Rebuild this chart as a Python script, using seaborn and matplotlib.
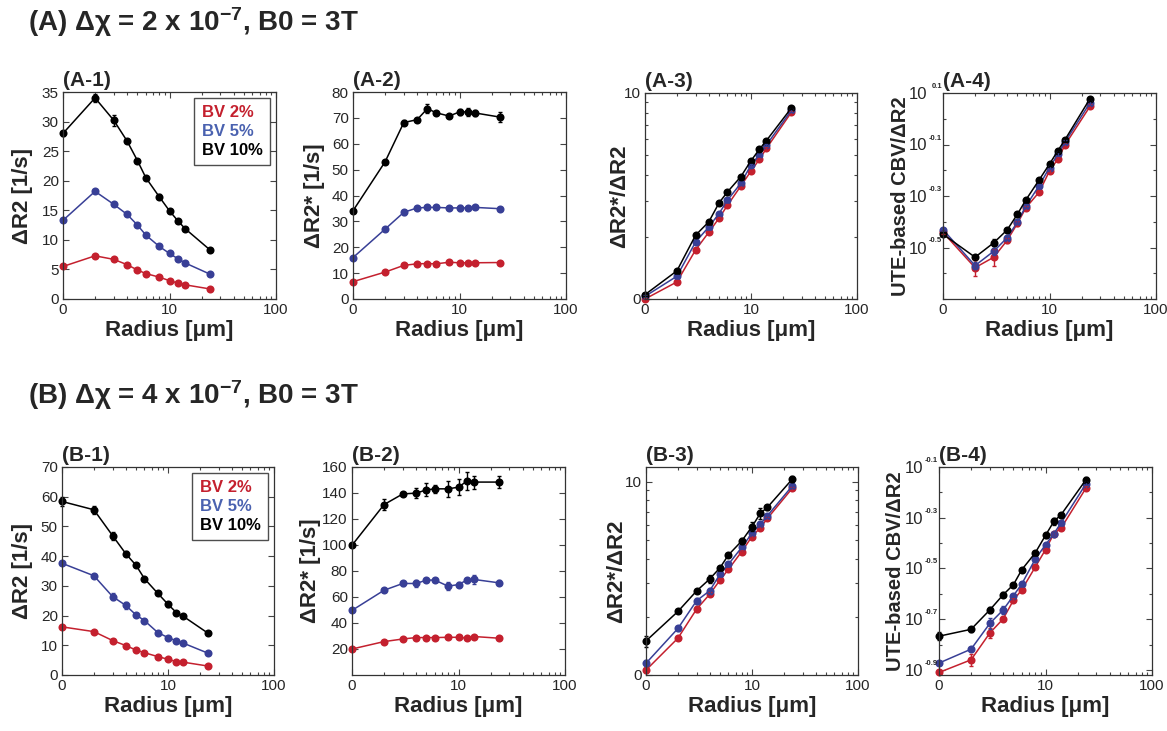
import numpy as np
import pandas as pd
import matplotlib
matplotlib.use("Agg")
import matplotlib.pyplot as plt
import seaborn as sns
from matplotlib.ticker import FixedLocator, FixedFormatter, NullFormatter, LogLocator
from matplotlib.lines import Line2D

# ---------------- data ----------------
radius = [1, 2, 3, 4, 5, 6, 8, 10, 12, 14, 24]
series = ["BV 2%", "BV 5%", "BV 10%"]

# (A) dchi = 2e-7
a1_bv2 = [5.5, 7.3, 6.7, 5.8, 4.9, 4.3, 3.7, 3.1, 2.7, 2.4, 1.7]
a1_bv5 = [13.3, 18.2, 16.0, 14.3, 12.5, 10.8, 8.9, 7.7, 6.8, 6.1, 4.2]
a1_bv10 = [28.0, 34.0, 30.2, 26.7, 23.4, 20.5, 17.3, 14.9, 13.2, 11.9, 8.3]
a1_err2 = [0.2, 0.2, 0.2, 0.2, 0.2, 0.2, 0.2, 0.2, 0.2, 0.2, 0.1]
a1_err5 = [0.3, 0.3, 0.3, 0.3, 0.3, 0.3, 0.3, 0.3, 0.3, 0.2, 0.2]
a1_err10 = [0.4, 0.7, 0.9, 0.3, 0.3, 0.3, 0.4, 0.3, 0.3, 0.3, 0.2]

a2_bv2 = [6.7, 10.4, 13.0, 13.6, 13.7, 13.6, 14.2, 14.0, 14.0, 14.0, 14.1]
a2_bv5 = [16.0, 27.0, 33.5, 35.2, 35.4, 35.4, 35.2, 35.2, 35.2, 35.4, 34.9]
a2_bv10 = [34.1, 53.0, 68.2, 69.3, 73.6, 72.0, 70.7, 72.3, 72.3, 71.9, 70.3]
a2_err2 = [0.4, 0.4, 0.4, 0.4, 0.4, 0.4, 0.5, 0.4, 0.4, 0.4, 0.4]
a2_err5 = [0.5, 0.6, 1.0, 0.8, 0.8, 0.8, 0.8, 1.2, 0.8, 0.6, 0.6]
a2_err10 = [0.8, 0.6, 1.0, 0.8, 1.8, 0.8, 0.8, 1.0, 1.6, 1.0, 1.8]

a3_bv2 = [1.00, 1.21, 1.73, 2.11, 2.47, 2.85, 3.53, 4.18, 4.76, 5.39, 8.05]
a3_bv5 = [1.03, 1.29, 1.89, 2.24, 2.60, 3.02, 3.64, 4.47, 5.00, 5.60, 8.23]
a3_bv10 = [1.05, 1.37, 2.04, 2.37, 2.93, 3.31, 3.92, 4.69, 5.33, 5.88, 8.45]
a3_err2 = [0.01, 0.02, 0.03, 0.03, 0.04, 0.04, 0.05, 0.06, 0.07, 0.08, 0.1]
a3_err5 = [0.01, 0.02, 0.03, 0.03, 0.04, 0.04, 0.05, 0.06, 0.07, 0.08, 0.1]
a3_err10 = [0.02, 0.02, 0.04, 0.03, 0.05, 0.04, 0.05, 0.06, 0.08, 0.08, 0.12]

a4_bv2 = [0.362, 0.264, 0.290, 0.337, 0.392, 0.451, 0.519, 0.627, 0.698, 0.792, 1.117]
a4_bv5 = [0.371, 0.269, 0.306, 0.345, 0.397, 0.458, 0.550, 0.646, 0.728, 0.813, 1.153]
a4_bv10 = [0.356, 0.290, 0.330, 0.370, 0.426, 0.484, 0.579, 0.667, 0.752, 0.830, 1.197]
a4_err2 = [0.006, 0.02, 0.022, 0.008, 0.008, 0.008, 0.01, 0.01, 0.012, 0.015, 0.02]
a4_err5 = [0.006, 0.008, 0.01, 0.008, 0.008, 0.008, 0.01, 0.01, 0.012, 0.015, 0.02]
a4_err10 = [0.006, 0.006, 0.01, 0.008, 0.008, 0.008, 0.01, 0.01, 0.012, 0.015, 0.02]

# (B) dchi = 4e-7
b1_bv2 = [16.2, 14.6, 11.6, 9.9, 8.4, 7.5, 6.2, 5.3, 4.5, 4.3, 3.0]
b1_bv5 = [37.6, 33.4, 26.4, 23.4, 20.2, 18.3, 14.3, 12.6, 11.5, 10.7, 7.3]
b1_bv10 = [58.4, 55.6, 46.9, 40.8, 36.9, 32.4, 27.5, 23.8, 21.0, 19.7, 14.0]
b1_err2 = [0.4, 0.4, 0.4, 0.4, 0.4, 0.4, 0.4, 0.3, 0.3, 0.3, 0.2]
b1_err5 = [0.5, 0.5, 1.3, 1.3, 0.5, 0.5, 0.5, 0.5, 0.5, 0.4, 0.3]
b1_err10 = [1.6, 1.3, 1.3, 0.9, 0.7, 0.7, 0.6, 0.8, 0.6, 0.6, 0.5]

b2_bv2 = [20.0, 25.7, 27.7, 28.8, 28.8, 28.8, 29.0, 29.0, 28.3, 29.6, 28.3]
b2_bv5 = [49.7, 65.2, 70.4, 70.4, 73.0, 73.0, 68.3, 69.6, 73.0, 73.5, 70.9]
b2_bv10 = [99.8, 131.1, 139.3, 139.9, 142.4, 143.2, 143.2, 144.5, 149.2, 148.4, 148.4]
b2_err2 = [0.8, 1.0, 1.0, 1.0, 1.0, 1.0, 1.0, 1.0, 1.2, 1.2, 1.0]
b2_err5 = [1.0, 1.2, 2.0, 2.5, 1.8, 1.5, 3.0, 2.0, 2.0, 3.5, 1.8]
b2_err10 = [1.5, 4.0, 1.5, 4.0, 5.0, 3.0, 6.0, 6.0, 7.0, 5.0, 4.5]

b3_bv2 = [1.06, 1.55, 2.19, 2.62, 3.10, 3.52, 4.35, 5.20, 5.78, 6.46, 9.24]
b3_bv5 = [1.15, 1.74, 2.42, 2.73, 3.33, 3.74, 4.57, 5.41, 6.04, 6.67, 9.50]
b3_bv10 = [1.50, 2.13, 2.72, 3.14, 3.59, 4.18, 4.93, 5.85, 6.86, 7.37, 10.30]
b3_err2 = [0.03, 0.03, 0.08, 0.06, 0.06, 0.06, 0.08, 0.1, 0.1, 0.1, 0.15]
b3_err5 = [0.04, 0.05, 0.08, 0.1, 0.08, 0.08, 0.1, 0.12, 0.12, 0.15, 0.2]
b3_err10 = [0.1, 0.04, 0.05, 0.15, 0.08, 0.06, 0.15, 0.3, 0.45, 0.2, 0.35]

b4_bv2 = [0.123, 0.138, 0.176, 0.200, 0.237, 0.261, 0.320, 0.375, 0.434, 0.456, 0.656]
b4_bv5 = [0.134, 0.152, 0.192, 0.217, 0.247, 0.275, 0.344, 0.392, 0.434, 0.478, 0.682]
b4_bv10 = [0.171, 0.182, 0.217, 0.249, 0.273, 0.313, 0.364, 0.427, 0.485, 0.515, 0.708]
b4_err2 = [0.002, 0.008, 0.008, 0.004, 0.004, 0.004, 0.006, 0.006, 0.006, 0.006, 0.01]
b4_err5 = [0.002, 0.003, 0.01, 0.008, 0.004, 0.004, 0.008, 0.006, 0.006, 0.008, 0.01]
b4_err10 = [0.006, 0.004, 0.005, 0.006, 0.005, 0.006, 0.008, 0.01, 0.015, 0.008, 0.015]

titles = ["(A-1)", "(A-2)", "(A-3)", "(A-4)", "(B-1)", "(B-2)", "(B-3)", "(B-4)"]
heading_a = r"(A) Δχ = 2 x 10$^{\mathbf{-7}}$, B0 = 3T"
heading_b = r"(B) Δχ = 4 x 10$^{\mathbf{-7}}$, B0 = 3T"
xlabel = "Radius [μm]"
x_ticks = [1, 10, 100]
x_ticklabels = ["0", "10", "100"]
a4_exponents = ["0.1", "-0.1", "-0.3", "-0.5"]
b4_exponents = ["-0.1", "-0.3", "-0.5", "-0.7", "-0.9"]

# ---------------- style ----------------
sns.set_style("ticks")
plt.rcParams["font.family"] = ["Liberation Sans", "DejaVu Sans"]
plt.rcParams["mathtext.fontset"] = "custom"
plt.rcParams["mathtext.rm"] = "Liberation Sans"
plt.rcParams["mathtext.bf"] = "Liberation Sans:bold"
plt.rcParams["mathtext.it"] = "Liberation Sans:italic"
plt.rcParams["mathtext.sf"] = "Liberation Sans"

colors = {"BV 2%": "#c4202e", "BV 5%": "#383f96", "BV 10%": "#000000"}
legend_colors = {"BV 2%": "#c4202e", "BV 5%": "#4a62b0", "BV 10%": "#000000"}

W, H = 1167, 731
fig = plt.figure(figsize=(W / 100, H / 100), dpi=100)


def pos(l, r, t, b):
    return [l / W, 1 - b / H, (r - l) / W, (b - t) / H]


def panel(rect, data, errs, title):
    ax = fig.add_axes(rect)
    rows = []
    for name, vals, ers in zip(series, data, errs):
        for r, v, e in zip(radius, vals, ers):
            rows.append({"radius": r, "value": v, "err": e, "BV": name})
    df = pd.DataFrame(rows)
    sns.lineplot(data=df, x="radius", y="value", hue="BV", hue_order=series,
                 palette=colors, marker="o", markersize=5.8, markeredgewidth=0,
                 linewidth=1.1, errorbar=None, legend=False, sort=False, ax=ax)
    for name in series:
        sub = df[df["BV"] == name]
        ax.errorbar(sub["radius"], sub["value"], yerr=sub["err"], fmt="none",
                    ecolor=colors[name], elinewidth=1.0, capsize=1.6, capthick=1.0)
    for ln in ax.lines:
        ln.set_clip_on(False)
    for coll in ax.collections:
        coll.set_clip_on(False)
    ax.set_xscale("log")
    ax.set_xlim(1, 100)
    ax.xaxis.set_major_locator(FixedLocator(x_ticks))
    ax.xaxis.set_major_formatter(FixedFormatter(x_ticklabels))
    ax.xaxis.set_minor_locator(LogLocator(base=10, subs=np.arange(2, 10)))
    ax.xaxis.set_minor_formatter(NullFormatter())
    ax.set_xlabel(xlabel, fontsize=16, fontweight="bold", labelpad=2)
    ax.set_title(title, loc="left", fontsize=15, fontweight="bold", pad=4)
    ax.tick_params(which="both", direction="in", top=True, right=True,
                   labelsize=11, width=0.8, color="#444444", pad=3)
    ax.tick_params(which="major", length=4)
    ax.tick_params(which="minor", length=2.2)
    for s in ax.spines.values():
        s.set_color("#333333")
        s.set_linewidth(0.9)
    return ax


def place_ylabel(ax, px_left):
    width_px = ax.get_position().width * W
    ax.yaxis.set_label_coords(-px_left / width_px, 0.5)


def add_legend(ax):
    handles = [Line2D([], [], linestyle="none") for _ in series]
    leg = ax.legend(handles, series, loc="upper right", handlelength=0,
                    handletextpad=0, frameon=True, fancybox=False,
                    borderpad=0.45, labelspacing=0.22, borderaxespad=0.35,
                    prop={"weight": "bold", "size": 12})
    leg.get_frame().set_edgecolor("#222222")
    leg.get_frame().set_linewidth(1.0)
    for t, name in zip(leg.get_texts(), series):
        t.set_color(legend_colors[name])


def linear_y(ax, lim, ticks, label, px):
    ax.set_ylim(*lim)
    ax.set_yticks(ticks)
    ax.set_yticklabels([str(t) for t in ticks])
    ax.yaxis.set_minor_locator(FixedLocator([]))
    ax.set_ylabel(label, fontsize=16, fontweight="bold")
    place_ylabel(ax, px)


def ratio_y(ax, lim, px):
    ax.set_yscale("log")
    ax.set_ylim(*lim)
    ax.yaxis.set_major_locator(FixedLocator([1, 10]))
    ax.yaxis.set_major_formatter(FixedFormatter(["0", "10"]))
    ax.yaxis.set_minor_locator(LogLocator(base=10, subs=np.arange(2, 10)))
    ax.yaxis.set_minor_formatter(NullFormatter())
    ax.set_ylabel("ΔR2*/ΔR2", fontsize=16, fontweight="bold")
    place_ylabel(ax, px)


def cbv_y(ax, lo, hi, exps, px):
    ax.set_yscale("log")
    ax.set_ylim(10 ** lo, 10 ** hi)
    vals = [10 ** float(e) for e in exps]
    ax.yaxis.set_major_locator(FixedLocator(vals))
    ax.yaxis.set_major_formatter(FixedFormatter(["10"] * len(exps)))
    ax.tick_params(axis="y", which="major", labelsize=12, pad=11)
    minors = [10 ** (k / 10) for k in range(-10, 3)]
    ax.yaxis.set_minor_locator(FixedLocator(minors))
    ax.yaxis.set_minor_formatter(NullFormatter())
    for e, v in zip(exps, vals):
        ax.annotate(e, xy=(0, v), xycoords=ax.get_yaxis_transform(),
                    xytext=(-1, 3), textcoords="offset pixels",
                    ha="right", va="bottom", fontsize=5.5, fontweight="bold",
                    annotation_clip=False)
    ax.set_ylabel("UTE-based CBV/ΔR2", fontsize=14.5, fontweight="bold")
    place_ylabel(ax, px)


# ---------------- row A ----------------
ax = panel(pos(63, 276, 92, 299), [a1_bv2, a1_bv5, a1_bv10], [a1_err2, a1_err5, a1_err10], titles[0])
linear_y(ax, (0, 35), [0, 5, 10, 15, 20, 25, 30, 35], "ΔR2 [1/s]", 30)
add_legend(ax)

ax = panel(pos(353, 566, 92, 299), [a2_bv2, a2_bv5, a2_bv10], [a2_err2, a2_err5, a2_err10], titles[1])
linear_y(ax, (0, 80), [0, 10, 20, 30, 40, 50, 60, 70, 80], "ΔR2* [1/s]", 28)

ax = panel(pos(645, 857, 93, 299), [a3_bv2, a3_bv5, a3_bv10], [a3_err2, a3_err5, a3_err10], titles[2])
ratio_y(ax, (1, 10), 15)

ax = panel(pos(943, 1156, 93, 299), [a4_bv2, a4_bv5, a4_bv10], [a4_err2, a4_err5, a4_err10], titles[3])
cbv_y(ax, -0.7, 0.1, a4_exponents, 33)

# ---------------- row B ----------------
ax = panel(pos(62, 274, 467, 675), [b1_bv2, b1_bv5, b1_bv10], [b1_err2, b1_err5, b1_err10], titles[4])
linear_y(ax, (0, 70), [0, 10, 20, 30, 40, 50, 60, 70], "ΔR2 [1/s]", 29)
add_legend(ax)

ax = panel(pos(352, 565, 467, 675), [b2_bv2, b2_bv5, b2_bv10], [b2_err2, b2_err5, b2_err10], titles[5])
linear_y(ax, (0, 160), [20, 40, 60, 80, 100, 120, 140, 160], "ΔR2* [1/s]", 31)

ax = panel(pos(646, 858, 467, 675), [b3_bv2, b3_bv5, b3_bv10], [b3_err2, b3_err5, b3_err10], titles[6])
ratio_y(ax, (1, 11.9), 19)

ax = panel(pos(939, 1152, 467, 675), [b4_bv2, b4_bv5, b4_bv10], [b4_err2, b4_err5, b4_err10], titles[7])
cbv_y(ax, -0.92, -0.1, b4_exponents, 34)

# ---------------- headings ----------------
fig.text(28 / W, 1 - 22 / H, heading_a, fontsize=20, fontweight="bold", va="center", ha="left")
fig.text(28 / W, 1 - 395 / H, heading_b, fontsize=20, fontweight="bold", va="center", ha="left")

fig.savefig("out.png", dpi=100)
